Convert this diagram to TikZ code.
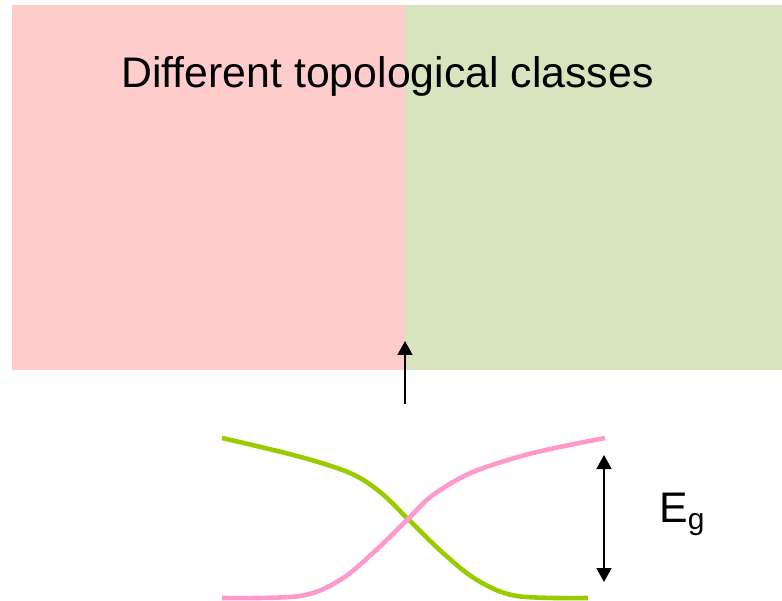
\documentclass[tikz,border=0pt]{standalone}
\usepackage{fontspec}
\setmainfont{Liberation Sans}
\usepackage{tikz}
\usetikzlibrary{arrows.meta,positioning,calc}
\definecolor{classpink}{HTML}{FFCCCC}
\definecolor{classgreen}{HTML}{D7E4BD}
\definecolor{bandpink}{HTML}{FF99CC}
\definecolor{bandgreen}{HTML}{99CC00}

\begin{document}
\begin{tikzpicture}[
  x=1pt,y=-1pt,
  region/.style={draw=none},
  band/.style={line width=4.6pt,line cap=butt},
  arr/.style={-{Triangle[length=14pt,width=15pt]},line width=1.6pt},
  darr/.style={{Triangle[length=14pt,width=15pt]}-{Triangle[length=14pt,width=15pt]},line width=1.6pt},
  label/.style={inner sep=0pt,font=\fontsize{42.8}{50}\selectfont},
]
\useasboundingbox (0,0) rectangle (782,601);
% two topological classes
\fill[region,classpink] (12,5) rectangle (405,370);
\fill[region,classgreen] (405,5) rectangle (782,370);
\node[label,anchor=base] (title) at (387.5,88) {Different topological classes};
% transition arrow
\coordinate (tail) at (405,404);
\coordinate (tip) at (405,341);
\draw[arr] (tail)--(tip);
% bands crossing
\draw[band,bandgreen] plot[smooth,tension=0.55] coordinates
  {(222,438) (297,456) (350,473) (380,492) (408,519) (443,553) (477,580) (517,596) (588,598)};
\draw[band,bandpink] plot[smooth,tension=0.55] coordinates
  {(222,598) (300,596) (340,580) (373,553) (408,519) (433,495) (473,472) (533,453) (605,438)};
% gap
\coordinate (gaptop) at (604,455);
\coordinate (gapbot) at (604,582);
\draw[darr] (gaptop)--(gapbot);
\node[label,anchor=base west] (gap) at (659,522) {E\textsubscript{g}};
\end{tikzpicture}
\end{document}
